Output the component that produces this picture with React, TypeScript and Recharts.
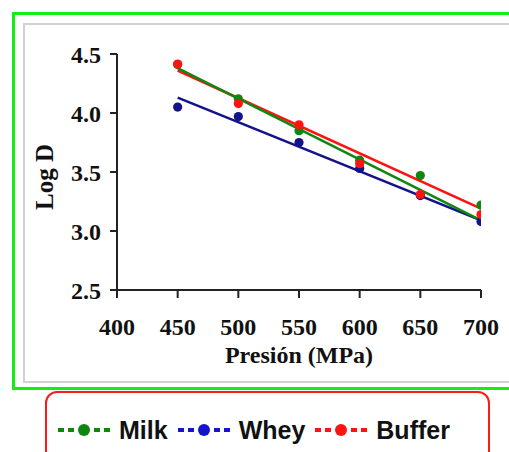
import { ComposedChart, Line, Scatter, XAxis, YAxis } from 'recharts';

// pressure levels (MPa) and measured log D per medium
const pressures = [450, 500, 550, 600, 650, 700];
const milkValues = [4.41, 4.12, 3.85, 3.6, 3.47, 3.22];
const wheyValues = [4.05, 3.97, 3.75, 3.53, 3.3, 3.08];
const bufferValues = [4.415, 4.08, 3.9, 3.57, 3.31, 3.14];

// linear fit end points (at 450 and 700 MPa)
const fitRange = [450, 700];
const milkFit = [4.38, 3.09];
const wheyFit = [4.13, 3.09];
const bufferFit = [4.36, 3.19];

const xTicks = [400, 450, 500, 550, 600, 650, 700];
const yTicks = [2.5, 3.0, 3.5, 4.0, 4.5];

const seriesNames = ['Milk', 'Whey', 'Buffer'];

const toPoints = (xs: number[], ys: number[]) => xs.map((x, i) => ({ x, y: ys[i] }));

const series = [
    { name: seriesNames[0], points: toPoints(pressures, milkValues), fit: toPoints(fitRange, milkFit), color: '#0f870f', legendColor: '#0f870f' },
    { name: seriesNames[1], points: toPoints(pressures, wheyValues), fit: toPoints(fitRange, wheyFit), color: '#13138a', legendColor: '#1515d0' },
    { name: seriesNames[2], points: toPoints(pressures, bufferValues), fit: toPoints(fitRange, bufferFit), color: '#ff1212', legendColor: '#ff1212' },
];

const serif = '"Liberation Serif", "Times New Roman", serif';
const tickStyle = { fontFamily: serif, fontWeight: 700, fontSize: 24, fill: '#111' };

const dot = (color: string) => (props: any) => (
    <circle cx={props.cx} cy={props.cy} r={4.6} fill={color} />
);

const YLabel = (props: any) => {
    const { viewBox } = props;
    const x = viewBox.x - 4;
    const y = viewBox.y + viewBox.height / 2 + 5;
    return (
        <text x={x} y={y} transform={`rotate(-90 ${x} ${y})`} textAnchor="middle"
            fontFamily={serif} fontWeight={700} fontSize={25} fill="#111">
            Log D
        </text>
    );
};

const XLabel = (props: any) => {
    const { viewBox } = props;
    return (
        <text x={viewBox.x + viewBox.width / 2} y={viewBox.y + 73} textAnchor="middle"
            fontFamily={serif} fontWeight={700} fontSize={24} fill="#111">
            Presión (MPa)
        </text>
    );
};

function LegendSymbol({ color }: { color: string }) {
    return (
        <svg width={52} height={14} style={{ display: 'block' }}>
            <line x1={0} y1={7} x2={16} y2={7} stroke={color} strokeWidth={4} strokeDasharray="6 4" />
            <line x1={36} y1={7} x2={52} y2={7} stroke={color} strokeWidth={4} strokeDasharray="6 4" />
            <circle cx={26} cy={7} r={6} fill={color} />
        </svg>
    );
}

export default function App() {
    return (
        <div style={{ position: 'absolute', left: 0, top: 0, width: 509, height: 452, overflow: 'hidden', background: '#fff' }}>
            {/* outer green frame */}
            <div style={{ position: 'absolute', left: 12, top: 12, width: 520, height: 372, border: '3px solid #14ee14' }} />
            {/* inner grey frame */}
            <div style={{ position: 'absolute', left: 23, top: 23, width: 500, height: 356, border: '2px solid #d2d2d2' }} />

            <div style={{ position: 'absolute', left: 0, top: 0 }}>
                <ComposedChart width={509} height={452} margin={{ top: 54, right: 28, bottom: 82, left: 57 }}>
                    <XAxis
                        type="number"
                        dataKey="x"
                        domain={[400, 700]}
                        ticks={xTicks}
                        interval={0}
                        allowDataOverflow
                        height={80}
                        tickSize={8}
                        tickMargin={20}
                        tick={tickStyle}
                        axisLine={{ stroke: '#222', strokeWidth: 2 }}
                        tickLine={{ stroke: '#222', strokeWidth: 2 }}
                        label={XLabel}
                    />
                    <YAxis
                        type="number"
                        dataKey="y"
                        domain={[2.5, 4.5]}
                        ticks={yTicks}
                        interval={0}
                        allowDataOverflow
                        width={60}
                        tickSize={7}
                        tickMargin={9}
                        tick={tickStyle}
                        tickFormatter={(v: number) => v.toFixed(1)}
                        axisLine={{ stroke: '#222', strokeWidth: 2 }}
                        tickLine={{ stroke: '#222', strokeWidth: 2 }}
                        label={YLabel}
                    />
                    {series.map((s) => (
                        <Scatter
                            key={`pts-${s.name}`}
                            name={s.name}
                            data={s.points}
                            fill={s.color}
                            shape={dot(s.color)}
                            isAnimationActive={false}
                        />
                    ))}
                    {[series[1], series[2], series[0]].map((s) => (
                        <Line
                            key={`fit-${s.name}`}
                            data={s.fit}
                            dataKey="y"
                            type="linear"
                            stroke={s.color}
                            strokeWidth={2.6}
                            dot={false}
                            activeDot={false}
                            legendType="none"
                            isAnimationActive={false}
                        />
                    ))}
                </ComposedChart>
            </div>

            {/* legend box */}
            <div style={{ position: 'absolute', left: 45, top: 391, width: 441, height: 90, border: '2px solid #ff1a1a', borderRadius: 12, background: '#fff' }} />
            <div style={{ position: 'absolute', left: 58, top: 416, height: 28, display: 'flex', alignItems: 'center', fontFamily: '"Liberation Sans", Arial, sans-serif', fontWeight: 700, fontSize: 25, color: '#111', whiteSpace: 'nowrap' }}>
                {series.map((s) => (
                    <div key={`lg-${s.name}`} style={{ display: 'flex', alignItems: 'center', marginRight: 10 }}>
                        <LegendSymbol color={s.legendColor} />
                        <span style={{ marginLeft: 9 }}>{s.name}</span>
                    </div>
                ))}
            </div>
        </div>
    );
}
